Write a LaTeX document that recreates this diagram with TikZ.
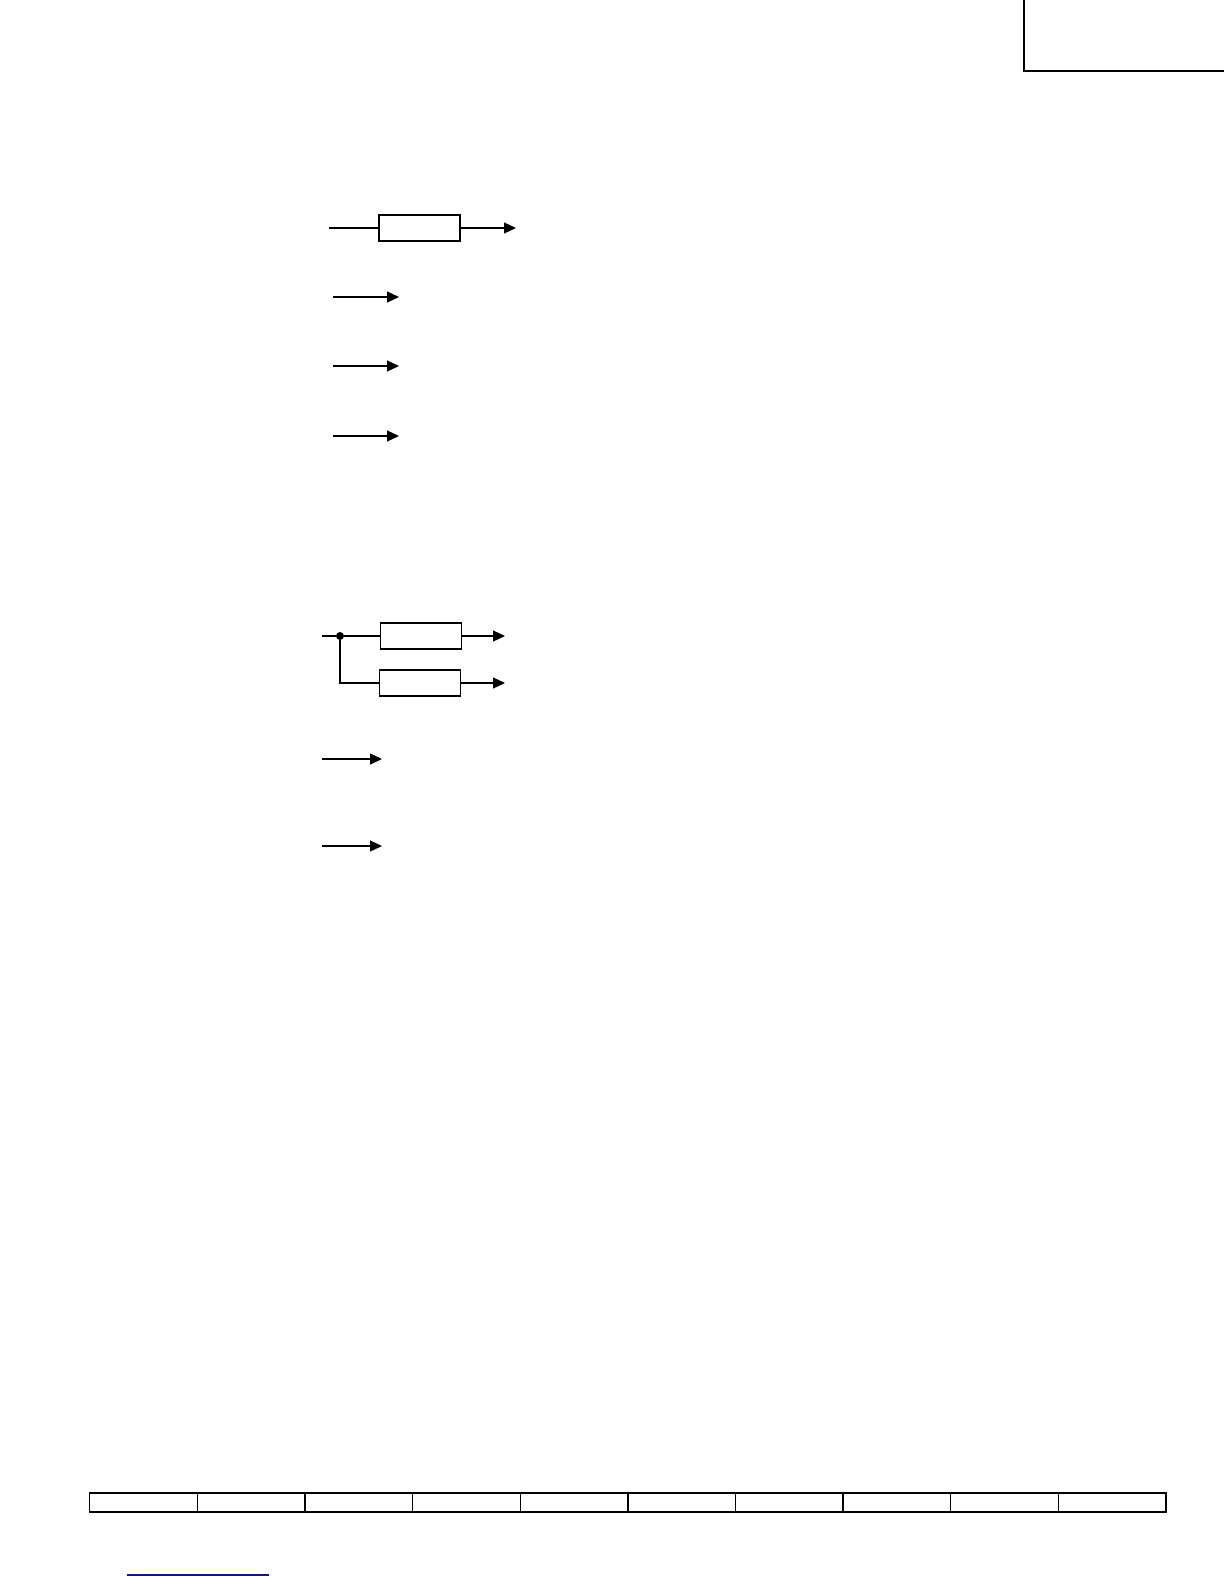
\documentclass[tikz,border=0pt]{standalone}
\usetikzlibrary{arrows.meta}

\begin{document}
\begin{tikzpicture}[x=0.5pt, y=-0.5pt,
    blk/.style={draw, line width=0.6pt, inner sep=0, minimum width=40.5pt, minimum height=13pt},
    wire/.style={line width=0.6pt},
    arr/.style={line width=0.6pt, -{Triangle[length=6pt, width=5.5pt]}},
    dot/.style={shape=circle, fill, inner sep=0, minimum size=4pt}]

    \useasboundingbox (0,0) rectangle (1224,1584);

    % Corner frame
    \draw[line width=1pt] (1024,-5) -- (1024,71) -- (1230,71);

    % Single block
    \coordinate (in1) at (329,228);
    \node[blk] (amp) at (419.5,228) {};
    \coordinate (out1) at (516,228);
    \draw[wire] (in1) -- (amp);
    \draw[arr] (amp) -- (out1);

    % Plain arrows
    \foreach \y [count=\i] in {297, 366, 436} {
        \coordinate (s\i) at (333,\y);
        \coordinate (e\i) at (399,\y);
        \draw[arr] (s\i) -- (e\i);
    }

    % Split into two blocks
    \coordinate (in2) at (322,636);
    \node[dot] (split) at (340,636) {};
    \node[blk] (upper) at (421,636) {};
    \node[blk] (lower) at (420,683) {};
    \coordinate (out2) at (505,636);
    \coordinate (out3) at (505,683);
    \draw[wire] (in2) -- (split) -- (upper);
    \draw[wire] (split) |- (lower);
    \draw[arr] (upper) -- (out2);
    \draw[arr] (lower) -- (out3);

    % Plain arrows
    \foreach \y [count=\i from 4] in {759, 846} {
        \coordinate (s\i) at (322,\y);
        \coordinate (e\i) at (382,\y);
        \draw[arr] (s\i) -- (e\i);
    }

    % Footer row
    \foreach \i in {0,...,9}
        \draw[line width=0.7pt] (89.7+\i*107.63,1493) rectangle ++(107.63,19);

    % Link underline
    \draw[line width=0.8pt, color={rgb,255:red,20;green,20;blue,140}] (127,1575) -- (269,1575);

\end{tikzpicture}
\end{document}
